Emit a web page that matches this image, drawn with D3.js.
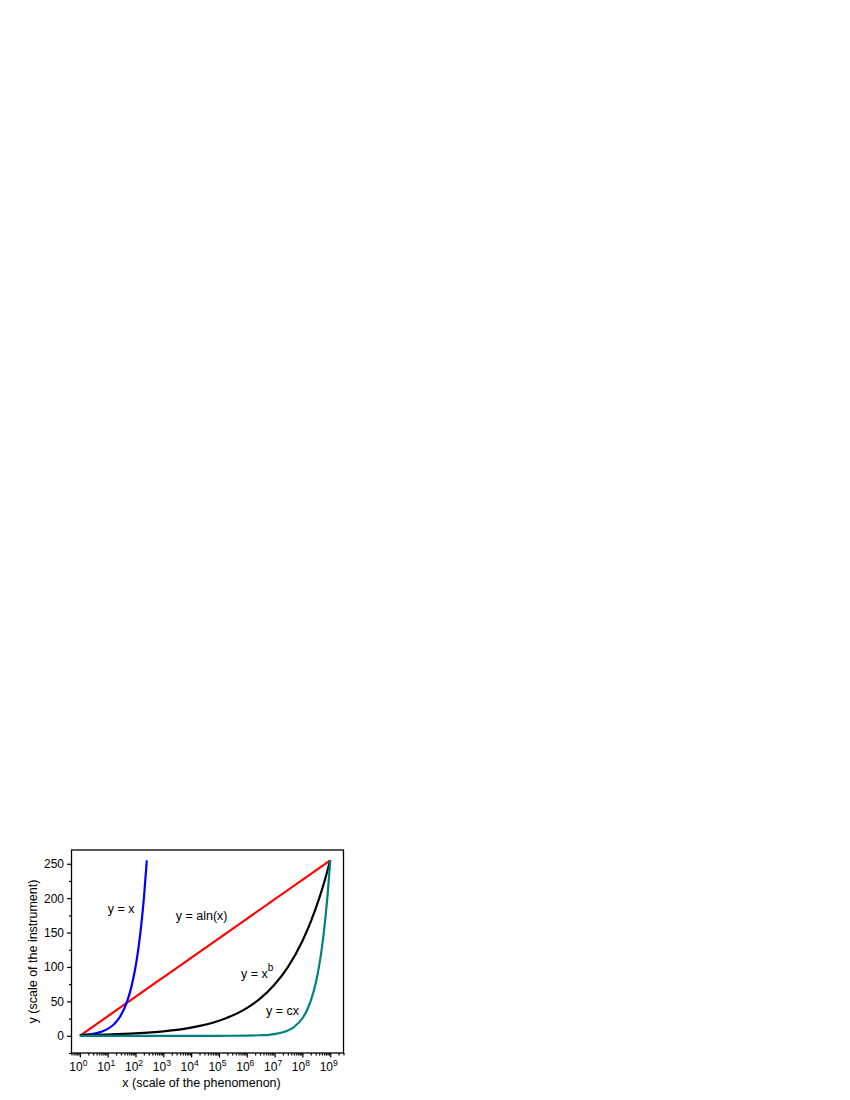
<!DOCTYPE html>
<html>
<head>
<meta charset="utf-8">
<script src="https://cdn.jsdelivr.net/npm/d3@7"></script>
<style>
  body { margin: 0; background: #fff; }
  svg { display: block; }
  text { font-family: "Liberation Sans", Arial, sans-serif; fill: #000; }
</style>
</head>
<body>
<svg id="chart" width="850" height="1100"></svg>
<script>
// ---- data ----
const xDomain = [0.5, 3e9];
const yDomain = [-25, 270];
const xTickExponents = [0, 1, 2, 3, 4, 5, 6, 7, 8, 9];
const yTickValues = [0, 50, 100, 150, 200, 250];

const blueX = [1, 1.5, 2, 3, 5, 7, 10, 15, 20, 30, 50, 70, 100, 130, 160, 200, 255];
const blueY = [1, 1.5, 2, 3, 5, 7, 10, 15, 20, 30, 50, 70, 100, 130, 160, 200, 255];

const redX = [1, 1e3, 1e6, 1e9];
const redY = [0, 85, 170, 255];

const blackX = [1, 10, 100, 1e3, 1e4, 1e5, 1e6, 3e6, 1e7, 3e7, 1e8, 2e8, 4e8, 6e8, 8e8, 1e9];
const blackY = [1, 1.85, 3.4, 6.3, 11.8, 21.8, 40.3, 53.9, 74.5, 99.9, 137.8, 165.9, 199.6, 222.5, 240.3, 255];

const tealX = [1, 1e3, 1e5, 1e6, 3e6, 1e7, 2e7, 5e7, 1e8, 1.5e8, 2e8, 3e8, 4e8, 5e8, 6e8, 7e8, 8e8, 9e8, 1e9];
const tealY = [0, 0, 0, 0.26, 0.77, 2.55, 5.1, 12.8, 25.5, 38.3, 51, 76.5, 102, 127.5, 153, 178.5, 204, 229.5, 255];

const curveLabels = [
  { text: "y = x", x: 10, y: 179 },
  { text: "y = aln(x)", x: 2.8e3, y: 168 },
  { text: "y = x", sup: "b", x: 6.2e5, y: 84 },
  { text: "y = cx", x: 4.9e6, y: 30 }
];

// ---- layout ----
const svg = d3.select("#chart");
const L = 71.5, R = 343.5, T = 850, B = 1053;

const x = d3.scaleLog().domain(xDomain).range([L, R]);
const y = d3.scaleLinear().domain(yDomain).range([B, T]);

// frame
svg.append("rect")
  .attr("x", L).attr("y", T).attr("width", R - L).attr("height", B - T)
  .attr("fill", "none").attr("stroke", "#000").attr("stroke-width", 1.3);

// x axis: minor ticks
const minorX = [];
for (let e = -1; e <= 9; e++) {
  for (let m = 2; m <= 9; m++) {
    const v = m * Math.pow(10, e);
    if (v >= xDomain[0] && v <= xDomain[1]) minorX.push(v);
  }
}
const xMajorVals = xTickExponents.map(e => Math.pow(10, e));

const gxMinor = svg.append("g").attr("transform", `translate(0,${B})`)
  .call(d3.axisBottom(x).tickValues(minorX).tickSize(2.5).tickFormat(""));
gxMinor.select(".domain").remove();
const gxMajor = svg.append("g").attr("transform", `translate(0,${B})`)
  .call(d3.axisBottom(x).tickValues(xMajorVals).tickSize(4.5).tickFormat(""));
gxMajor.select(".domain").remove();

// x tick labels with superscripts
xTickExponents.forEach(e => {
  const t = svg.append("text")
    .attr("x", x(Math.pow(10, e)) - 1.5)
    .attr("y", 1071)
    .attr("text-anchor", "middle")
    .attr("font-size", 12);
  t.append("tspan").text("10");
  t.append("tspan").attr("dy", -5).attr("font-size", 8.5).text(String(e));
});

// y axis
const minorY = d3.range(-25, 271, 25).filter(v => v % 50 !== 0);
const gyMinor = svg.append("g").attr("transform", `translate(${L},0)`)
  .call(d3.axisLeft(y).tickValues(minorY).tickSize(2.5).tickFormat(""));
gyMinor.select(".domain").remove();
const gyMajor = svg.append("g").attr("transform", `translate(${L},0)`)
  .call(d3.axisLeft(y).tickValues(yTickValues).tickSize(4.5).tickPadding(3).tickFormat(d3.format("d")));
gyMajor.select(".domain").remove();
gyMajor.selectAll("text").attr("font-size", 12).attr("font-family", "Liberation Sans, Arial, sans-serif").attr("fill", "#000");
svg.selectAll("g .tick line").attr("stroke", "#000").attr("stroke-width", 1.2);

// axis titles
svg.append("text")
  .attr("x", (L + R) / 2 - 6).attr("y", 1087)
  .attr("text-anchor", "middle").attr("font-size", 12.5)
  .text("x (scale of the phenomenon)");
svg.append("text")
  .attr("transform", `translate(37,${(T + B) / 2}) rotate(-90)`)
  .attr("text-anchor", "middle").attr("font-size", 12.5)
  .text("y (scale of the instrument)");

// curves
const line = d3.line().x(d => x(d[0])).y(d => y(d[1])).curve(d3.curveMonotoneX);
const series = [
  { xs: redX, ys: redY, color: "#ff0000" },
  { xs: blueX, ys: blueY, color: "#0000ff" },
  { xs: blackX, ys: blackY, color: "#000000" },
  { xs: tealX, ys: tealY, color: "#008080" }
];
series.forEach(s => {
  svg.append("path")
    .datum(s.xs.map((v, i) => [v, s.ys[i]]))
    .attr("d", line)
    .attr("fill", "none")
    .attr("stroke", s.color)
    .attr("stroke-width", 2.2)
    .attr("stroke-linejoin", "round");
});

// curve labels
curveLabels.forEach(lb => {
  const t = svg.append("text")
    .attr("x", x(lb.x)).attr("y", y(lb.y))
    .attr("font-size", 12.5);
  t.append("tspan").text(lb.text);
  if (lb.sup) t.append("tspan").attr("dy", -7).attr("font-size", 10).text(lb.sup);
});
</script>
</body>
</html>
